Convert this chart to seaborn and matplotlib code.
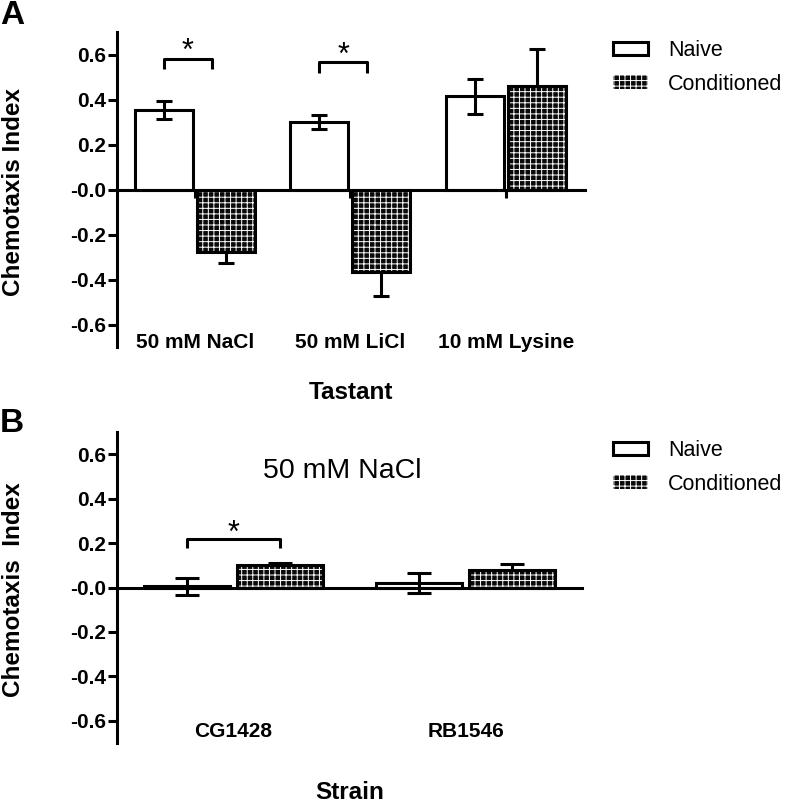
import seaborn as sns
import matplotlib.pyplot as plt
import pandas as pd
from matplotlib.patches import Rectangle, Patch

sns.set_style("white")
plt.rcParams['font.family'] = ['Liberation Sans', 'DejaVu Sans']
plt.rcParams['hatch.linewidth'] = 0.7
for key in ['text.color', 'axes.labelcolor', 'xtick.color', 'ytick.color']:
    plt.rcParams[key] = 'black'

# panel A - tastants
tastants = ['50 mM NaCl', '50 mM LiCl', '10 mM Lysine']
naive_a = [0.355, 0.300, 0.415]
naive_a_sem = [0.040, 0.033, 0.078]
cond_a = [-0.278, -0.365, 0.460]
cond_a_sem = [0.050, 0.110, 0.165]
sig_a = [0, 1]

# panel B - strains, 50 mM NaCl
strains = ['CG1428', 'RB1546']
naive_b = [0.005, 0.022]
naive_b_sem = [0.039, 0.045]
cond_b = [0.100, 0.077]
cond_b_sem = [0.012, 0.027]
sig_b = [0]

groups = ['Naive', 'Conditioned']
yticks = [0.6, 0.4, 0.2, 0.0, -0.2, -0.4, -0.6]
ytick_labels = ['0.6', '0.4', '0.2', '-0.0', '-0.2', '-0.4', '-0.6']

LW = 2.2
HATCH = '+++'
DARK = '#0a0a0a'


def draw_panel(ax, cats, naive, naive_sem, cond, cond_sem, capsize, xtick_len, label_y):
    df = pd.DataFrame({
        'cat': cats * 2,
        'group': ['Naive'] * len(cats) + ['Conditioned'] * len(cats),
        'value': naive + cond,
    })
    sns.barplot(data=df, x='cat', y='value', hue='group', hue_order=groups,
                palette={'Naive': 'white', 'Conditioned': DARK},
                edgecolor='black', linewidth=LW, gap=0.07, errorbar=None,
                legend=False, ax=ax, zorder=2)

    # hatched conditioned bars, outline drawn on top
    for bar in ax.containers[1]:
        bar.set_hatch(HATCH)
        bar.set_edgecolor('white')
        bar.set_linewidth(0)
        ax.add_patch(Rectangle(bar.get_xy(), bar.get_width(), bar.get_height(),
                               fill=False, ec='black', lw=LW, zorder=2.1))

    for i, (vals, sems) in enumerate([(naive, naive_sem), (cond, cond_sem)]):
        xs = [b.get_x() + b.get_width() / 2 for b in ax.containers[i]]
        ax.errorbar(xs, vals, yerr=sems, fmt='none', ecolor='black',
                    elinewidth=LW, capsize=capsize, capthick=LW,
                    zorder=3 if i == 0 else 1.5)

    ax.set_ylim(-0.7, 0.7)
    sns.despine(ax=ax)
    ax.spines['bottom'].set_position(('data', 0))
    for s in ['left', 'bottom']:
        ax.spines[s].set_linewidth(LW)
        ax.spines[s].set_color('black')
    ax.set_yticks(yticks, ytick_labels)
    ax.set_xticks(range(len(cats)), [''] * len(cats))
    ax.tick_params(axis='y', direction='out', length=6.5, width=LW,
                   labelsize=15, pad=1, left=True)
    ax.tick_params(axis='x', direction='out', length=xtick_len, width=LW,
                   bottom=True)
    for lbl in ax.get_yticklabels():
        lbl.set_fontweight('bold')
    ax.set_xlabel('')
    ax.set_ylabel('')
    for i, c in enumerate(cats):
        ax.text(i, label_y, c, ha='center', va='center', fontsize=15,
                fontweight='bold')


def bracket(ax, g, y, drop, star_y, shrink):
    x0 = ax.containers[0][g].get_x() + ax.containers[0][g].get_width() / 2
    x1 = ax.containers[1][g].get_x() + ax.containers[1][g].get_width() / 2 - shrink
    ax.plot([x0, x0, x1, x1], [y - drop, y, y, y - drop], color='black',
            lw=LW, solid_capstyle='butt', zorder=3)
    ax.text((x0 + x1) / 2, star_y, '*', ha='center', va='center', fontsize=22)


fig = plt.figure(figsize=(7.87, 8.02), dpi=100)

# ---- panel A
ax1 = fig.add_axes([117 / 787, 1 - 347 / 802, 468 / 787, 315 / 802])
draw_panel(ax1, tastants, naive_a, naive_a_sem, cond_a, cond_a_sem,
           capsize=6.1, xtick_len=6, label_y=-0.68)
ax1.set_xlim(-0.5, 2.51)
for g, top in zip(sig_a, [0.58, 0.565]):
    bracket(ax1, g, top, 0.045, top + 0.03, 0.09)
ax1.text(0.5, -0.143, 'Tastant', transform=ax1.transAxes, ha='center',
         va='center', fontsize=17.5, fontweight='bold')

# ---- panel B
ax2 = fig.add_axes([117 / 787, 1 - 743 / 802, 465 / 787, 311 / 802])
draw_panel(ax2, strains, naive_b, naive_b_sem, cond_b, cond_b_sem,
           capsize=8.6, xtick_len=0, label_y=-0.65)
ax2.set_xlim(-0.5, 1.5)
for g in sig_b:
    bracket(ax2, g, 0.217, 0.04, 0.24, 0)
ax2.text(0.47, 0.523, '50 mM NaCl', ha='center', va='center', fontsize=20.5)
ax2.text(0.5, -0.158, 'Strain', transform=ax2.transAxes, ha='center',
         va='center', fontsize=17.5, fontweight='bold')

# y labels and panel letters
fig.text(14 / 787, 1 - 192 / 802, 'Chemotaxis Index', rotation=90,
         ha='center', va='center', fontsize=17.5, fontweight='bold')
fig.text(14 / 787, 1 - 590 / 802, 'Chemotaxis  Index', rotation=90,
         ha='center', va='center', fontsize=17.5, fontweight='bold')
fig.text(0.0, 1.0, 'A', fontsize=24, fontweight='bold', ha='left', va='top')
fig.text(0.0, 1 - 408 / 802, 'B', fontsize=24, fontweight='bold', ha='left', va='top')

# legends
handles = [Patch(facecolor='white', edgecolor='black', lw=LW),
           Patch(facecolor=DARK, edgecolor='white', hatch=HATCH, lw=0)]
for top in [40, 440]:
    fig.legend(handles, groups, loc='upper left',
               bbox_to_anchor=(613 / 787, 1 - top / 802), frameon=False,
               fontsize=15.5, handlelength=1.63, handleheight=0.6,
               handletextpad=0.93, labelspacing=0.6, borderpad=0,
               borderaxespad=0)

fig.savefig('out.png', dpi=100)
